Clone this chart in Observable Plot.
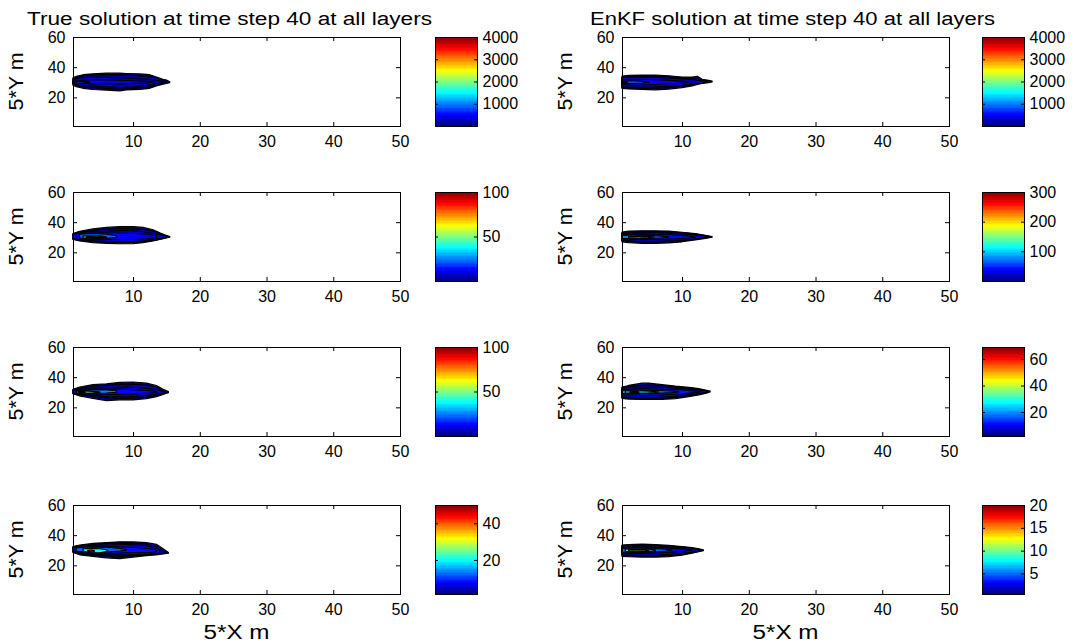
<!DOCTYPE html>
<html><head><meta charset="utf-8">
<script src="https://cdn.jsdelivr.net/npm/d3@7"></script>
<script src="https://cdn.jsdelivr.net/npm/@observablehq/plot@0.6"></script>
<style>
body{margin:0;background:#fff;}
#fig{position:relative;width:1078px;height:643px;overflow:hidden;background:#fff;font-family:"Liberation Sans",Arial,sans-serif;}
#fig > svg{position:absolute;overflow:visible;}
</style></head><body><div id="fig"></div>
<script>
// ---------- texts & ticks ----------
const titles = ["True solution at time step 40 at all layers", "EnKF solution at time step 40 at all layers"];
const xLabel = "5*X m";
const yLabel = "5*Y m";
const xTicks = [10, 20, 30, 40, 50];
const yTicks = [20, 40, 60];
const xDomain = [1, 50];
const yDomain = [1, 60];

// ---------- colorbars ----------
const trueCbMin = [0, 0, 0, 1.4];
const trueCbMax = [4000, 100, 100, 50];
const trueCbTicks = [[1000, 2000, 3000, 4000], [50, 100], [50, 100], [20, 40]];
const enkfCbMin = [0, 0, 2, 0.5];
const enkfCbMax = [4000, 300, 69, 20];
const enkfCbTicks = [[1000, 2000, 3000, 4000], [100, 200, 300], [20, 40, 60], [5, 10, 15, 20]];

// jet colormap
const jetStops = [0, 0.125, 0.375, 0.625, 0.875, 1];
const jetColors = ["#00007f", "#0000ff", "#00ffff", "#ffff00", "#ff0000", "#7f0000"];

// ---------- plume contour bands: [x, yLow, yHigh] ----------
// True, layer 1
const trueL1Levels = [20, 120, 250, 450, 900, 2500];
const trueL1Bands = [
  [[1,28,33],[1.5,27,34],[2.5,26,35],[4,25.2,35.6],[6,24.8,36],[8,24.3,36],[9,25,35.8],[11,25.3,35.5],[12.5,26,35],[13.5,27.5,33.5],[14.5,28.8,32],[15,29.2,31.5],[15.5,29.8,30.3]],
  [[1,28.5,32.5],[2,27.2,33.8],[4,26.5,34.8],[6,26,35],[8,25.5,35],[10,26,34.5],[12,26.8,34],[13.5,28,33],[14.8,29.5,30.8]],
  [[1,29,31.5],[2,28,33],[4,27.5,33.5],[6,27,33.5],[8,26.5,33],[10,27,32.5],[12,28,32],[13.5,29,31.2],[14.5,29.8,30.5]],
  [[2,29.5,31],[4,28.7,31.8],[6,29.2,31.5],[8,28.8,31.3],[10,29.2,31],[12,29.6,30.7],[13,30,30.3]],
  [[1,29.7,30.6],[2,29.5,30.8],[3.5,29.8,30.3]],
  [[1,29.8,30.3],[1.6,30,30.1]]
];
// True, layer 2
const trueL2Levels = [1, 4, 8, 12, 22, 55, 90];
const trueL2Bands = [
  [[1,28.5,32.5],[2,27.5,34],[4,26.5,35.5],[6,26,36.5],[8,25.7,37],[10,25.8,37],[11.5,26.5,36.5],[13,27.5,35],[14,28.5,33],[15,29.5,31.2],[15.5,30,30.5]],
  [[1,28.8,32.2],[2.5,27.8,33.6],[5,27,35],[8,26.5,35.8],[10,26.6,35.6],[12,27.3,35],[13.5,28.3,33.5],[15,29.8,30.8]],
  [[1,29,32],[3,28,33.5],[6,27.3,34],[9,27,34.5],[11,27.5,34],[13,28.5,32.5],[14.5,29.7,31]],
  [[2,29,32.5],[4,28.5,33],[7,28.5,33],[10,28.5,32.5],[12,29,32],[13.5,29.8,31]],
  [[2,29.5,32],[4,29,32.5],[6,29.2,32],[7.5,29.8,31]],
  [[2.5,29.6,30.8],[3.5,29.3,31],[5,29.5,30.9],[6,29.9,30.3]],
  [[3,29.7,30.4],[3.6,29.6,30.5],[4.2,29.9,30.2],[4.8,29.7,30.3],[5.3,29.6,30.4],[5.8,29.9,30.1]]
];
// True, layer 3
const trueL3Levels = [1, 4, 8, 13, 25, 50, 65];
const trueL3Bands = [
  [[1,29,32],[2,27.5,33.5],[4,26,35],[6,24.5,35.5],[8,25,36.5],[10,25,36.8],[12,25.8,36],[13.5,27,34.5],[14.5,28.5,32],[15.3,29.7,30.5]],
  [[1,29.1,31.8],[2.5,28,33],[5,26.8,34.3],[8,26,35.2],[10,26,35.3],[12,26.8,34.8],[13.5,27.8,33.3],[14.8,29.6,30.7]],
  [[1,29.3,31.5],[3,28.2,32.5],[6,27.2,33],[9,27,33.5],[11,27.5,33],[13,28.5,32],[14.5,29.5,30.8]],
  [[1.5,29.5,31.3],[4,28.8,32],[7,28.5,32.3],[10,28.8,31.8],[12.5,29.5,31],[13.5,30,30.5]],
  [[1.5,29.5,31],[4,29.2,31.5],[6,29.5,31.6],[7.5,30,31]],
  [[1.5,29.6,30.8],[2.5,29.4,30.9],[4,29.6,30.6],[5,29.9,30.2]],
  [[1.8,29.8,30.4],[2.3,29.7,30.5],[2.8,29.9,30.2]]
];
// True, layer 4
const trueL4Levels = [2, 3.5, 5, 8, 12, 20, 42];
const trueL4Bands = [
  [[1,28.5,32.5],[2,27,33.5],[4,26,34.5],[6,25,35],[8,24.5,35.6],[10,25.5,35.5],[12,26.5,35],[13.5,27,34],[14.5,27.5,31],[15.3,28,28.5]],
  [[1,28.8,32.2],[2.5,27.6,33.3],[5,26.5,34.2],[8,25.8,34.8],[10,26.3,34.7],[12,27,34],[13.8,27.6,32],[14.8,28,29]],
  [[1,29,32],[3,28,33],[6,27,33.5],[9,27,34],[12,27.5,33],[14,28,30.5]],
  [[1.5,29,31.8],[4,28.3,32.5],[7,28,32.5],[10,28.5,32],[12.5,28.5,31],[13.5,29,30]],
  [[1.5,29.3,31.5],[3,29,32],[6,28.8,32],[8,29.5,31.3],[9,30,30.5]],
  [[2.5,29.5,31],[3.5,28.5,31.3],[5,28.3,31],[5.8,29,30.5],[6.2,29.5,30]],
  [[3.2,29.2,30],[3.7,29,30.1],[4.2,29.3,29.8]]
];
// EnKF, layer 1
const enkfL1Levels = [20, 120, 250, 450, 900, 2000];
const enkfL1Bands = [
  [[1,26,34],[2,25.6,34.5],[4,25.3,34.8],[6,25,34.7],[8,25.5,34.3],[10,26.5,33.5],[11.5,27.5,33.5],[12.3,28.5,34],[13,29.3,32],[14,29.8,31.3],[14.5,30.2,30.8]],
  [[1,26.5,33.5],[3,26.1,34.1],[6,26,34],[8,26.5,33.5],[10,27.5,32.8],[12,28.8,32.2],[13.6,29.9,30.9]],
  [[1,27,33],[3,26.8,33.5],[6,27,33.3],[9,27.5,32.5],[11,28.5,32],[13,29.5,31],[13.8,30.2,30.6]],
  [[1,28.5,31.5],[3,28,32],[6,28.5,31.8],[8,29,31.3],[10,29.5,30.8],[11,30,30.3]],
  [[1,29.3,30.8],[2.5,29.2,31],[4,29.5,30.6],[5,29.9,30.2]],
  [[1,29.7,30.4],[1.8,29.9,30.2]]
];
// EnKF, layer 2
const enkfL2Levels = [3, 12, 25, 40, 75, 115];
const enkfL2Bands = [
  [[1,27,33.5],[2,26.5,34],[4,26,34.3],[6,26,34.3],[8,26.3,34],[10,27,33.3],[12,28.3,32.5],[13.5,29.3,31.3],[14.5,30,30.5]],
  [[1,27.5,33],[3,27,33.6],[6,26.7,33.7],[9,27,33.3],[11,28,32.6],[13,29.2,31.4],[14.2,30,30.5]],
  [[1,28,32.5],[3,27.5,33],[6,27.3,33],[9,27.8,32.5],[11,28.5,31.8],[13,29.5,31],[13.8,30,30.5]],
  [[1,28.8,31.8],[3,28.5,32.2],[6,28.5,32],[9,29,31.5],[11,29.5,30.8],[12,30,30.3]],
  [[1,29.3,31.2],[3,29,31.5],[5,29.2,31.2],[7,29.6,30.7],[8,30,30.3]],
  [[2,29.7,30.6],[3.5,29.5,30.8],[5,29.7,30.5],[5.8,30,30.2]]
];
// EnKF, layer 3
const enkfL3Levels = [4, 5.5, 7, 12, 20, 29, 52];
const enkfL3Bands = [
  [[1,26,33.5],[2,25.5,34.5],[4,25.2,36],[5,25.2,36],[7,25.3,35],[9,25.8,34],[11,27,33.2],[12.5,28.3,32.5],[13.5,29.3,31.5],[14.2,30.2,30.8]],
  [[1,26.5,33],[2.5,26,34],[5,25.8,34.8],[8,26.3,34],[10,27,33.2],[12,28.2,32.4],[13.8,29.9,31]],
  [[1,27,32.5],[3,26.5,33.5],[6,26.5,33.5],[9,27.3,32.8],[11,28.3,32],[13,29.5,31.2],[13.8,30.2,30.6]],
  [[1,28.5,31.8],[4,28,32.5],[7,28.3,32],[10,29,31.5],[12,29.8,30.8],[12.8,30.2,30.4]],
  [[1,29.3,31.3],[3,29,31.5],[6,29.3,31.3],[8.5,29.8,30.8],[9.5,30.2,30.4]],
  [[1.5,29.6,30.9],[3,29.3,31],[5,29.6,30.7],[6.5,30,30.3]],
  [[2.2,29.8,30.5],[2.8,29.7,30.6],[3.5,29.9,30.3]]
];
// EnKF, layer 4
const enkfL4Levels = [0.8, 1.3, 1.8, 3, 5, 9, 13];
const enkfL4Bands = [
  [[1,26,33.5],[2,25.7,33.8],[4,25.5,34],[6,25.5,33.8],[8,25.8,33.2],[10,26.8,32.5],[11.5,28,31.8],[12.5,29,31],[13.2,29.8,30.3]],
  [[1,26.5,33.1],[3,26.2,33.4],[6,26.1,33.3],[8.5,26.6,32.6],[10.5,27.6,32],[12.2,29,30.9],[12.9,29.8,30.3]],
  [[1,27,32.8],[3,26.7,33],[6,26.7,32.8],[9,27.5,32],[11,28.5,31.5],[12.5,29.5,30.6]],
  [[1,28,32],[3,27.8,32.3],[6,28,32],[8.5,28.8,31.3],[10.5,29.5,30.8],[11.5,30,30.3]],
  [[1,28.8,31.3],[3,28.5,31.6],[5.5,28.8,31.3],[7.5,29.5,30.8],[8.5,30,30.3]],
  [[1.5,29.3,30.8],[3,29,31],[5,29.3,30.8],[6,29.8,30.3]],
  [[2,29.6,30.4],[3,29.5,30.5],[4.5,29.6,30.4],[5,29.9,30.1]]
];

const trueBands = [trueL1Bands, trueL2Bands, trueL3Bands, trueL4Bands];
const trueLevels = [trueL1Levels, trueL2Levels, trueL3Levels, trueL4Levels];
const enkfBands = [enkfL1Bands, enkfL2Bands, enkfL3Bands, enkfL4Bands];
const enkfLevels = [enkfL1Levels, enkfL2Levels, enkfL3Levels, enkfL4Levels];

// ---------- layout ----------
const colX = [73, 622];
const rowY = [37, 192, 347, 505];
const axW = 327, axH = 89;
const cbX = [435, 982], cbW = 42;
const FONT = "Liberation Sans, Arial, sans-serif";

const jetScale = d3.scaleLinear().domain(jetStops).range(jetColors).clamp(true);
const jet = t => jetScale(t);

const fig = document.getElementById("fig");
function place(svg, left, top) {
  svg.style.left = left + "px";
  svg.style.top = top + "px";
  fig.appendChild(svg);
}

const cols = [
  {bands: trueBands, levels: trueLevels, cbMin: trueCbMin, cbMax: trueCbMax, cbTicks: trueCbTicks},
  {bands: enkfBands, levels: enkfLevels, cbMin: enkfCbMin, cbMax: enkfCbMax, cbTicks: enkfCbTicks}
];

cols.forEach((col, c) => {
  for (let r = 0; r < 4; r++) {
    const mL = 40, mR = 10, mT = 5, mB = 28;
    const colorOpt = {type: "linear", domain: [col.cbMin[r], col.cbMax[r]], interpolate: jet};
    const bandMarks = col.bands[r].map((b, i) =>
      Plot.areaY(b, {x: d => d[0], y1: d => d[1], y2: d => d[2], fill: () => col.levels[r][i], stroke: "black", strokeWidth: 1.2, strokeLinejoin: "round"})
    );
    const panel = Plot.plot({
      width: mL + axW + mR, height: mT + axH + mB,
      marginLeft: mL, marginRight: mR, marginTop: mT, marginBottom: mB,
      x: {domain: xDomain},
      y: {domain: yDomain},
      color: colorOpt,
      style: {fontSize: "16px", fontFamily: FONT, color: "black", background: "transparent", overflow: "visible"},
      marks: [
        ...bandMarks,
        Plot.tickX(xTicks, {x: d => d, insetTop: axH - 4, stroke: "black"}),
        Plot.tickX(xTicks, {x: d => d, insetBottom: axH - 4, stroke: "black"}),
        Plot.tickY(yTicks, {y: d => d, insetRight: axW - 4, stroke: "black"}),
        Plot.tickY(yTicks, {y: d => d, insetLeft: axW - 4, stroke: "black"}),
        Plot.frame({stroke: "black", strokeWidth: 1}),
        Plot.axisX(xTicks, {tickSize: 0, tickPadding: 9, fontSize: 16, fill: "black"}),
        Plot.axisY(yTicks, {tickSize: 0, tickPadding: 8, fontSize: 16, fill: "black"})
      ]
    });
    place(panel, colX[c] - mL, rowY[r] - mT);

    // colorbar (64-step jet ramp)
    const lo = col.cbMin[r], hi = col.cbMax[r];
    const nSteps = 64;
    const steps = d3.range(nSteps).map(i => ({y1: lo + (hi - lo) * i / nSteps, y2: lo + (hi - lo) * (i + 1) / nSteps}));
    const cmL = 1, cmR = 55, cmT = 5, cmB = 5;
    const cb = Plot.plot({
      width: cmL + cbW + cmR, height: cmT + axH + cmB,
      marginLeft: cmL, marginRight: cmR, marginTop: cmT, marginBottom: cmB,
      x: {domain: [0, 1], axis: null},
      y: {domain: [lo, hi]},
      color: colorOpt,
      style: {fontSize: "16px", fontFamily: FONT, color: "black", background: "transparent", overflow: "visible"},
      marks: [
        Plot.rect(steps, {x1: 0, x2: 1, y1: "y1", y2: "y2", fill: d => (d.y1 + d.y2) / 2, inset: 0, shapeRendering: "crispEdges"}),
        Plot.tickY(col.cbTicks[r], {y: d => d, insetRight: cbW - 3, stroke: "black"}),
        Plot.tickY(col.cbTicks[r], {y: d => d, insetLeft: cbW - 3, stroke: "black"}),
        Plot.frame({stroke: "black"}),
        Plot.axisY(col.cbTicks[r], {anchor: "right", tickSize: 0, tickPadding: 5, fontSize: 16, fill: "black", tickFormat: d => String(d)})
      ]
    });
    place(cb, cbX[c] - cmL, rowY[r] - cmT);
  }
});

// ---------- titles and axis labels ----------
const ov = d3.create("svg").attr("width", 1078).attr("height", 643)
  .style("left", "0px").style("top", "0px")
  .attr("font-family", FONT).attr("fill", "black");
const titleX = [27, 590];
titles.forEach((t, c) => {
  ov.append("text").attr("x", titleX[c]).attr("y", 25).attr("font-size", 18)
    .attr("textLength", 405).attr("lengthAdjust", "spacingAndGlyphs").text(t);
  ov.append("text").attr("x", colX[c] + axW / 2 - 33).attr("y", 639).attr("font-size", 20)
    .attr("textLength", 66).attr("lengthAdjust", "spacingAndGlyphs").text(xLabel);
  rowY.forEach(ry => {
    const cx = colX[c] - 50, cy = ry + axH / 2;
    ov.append("text").attr("transform", `translate(${cx},${cy}) rotate(-90)`)
      .attr("x", -29).attr("font-size", 20)
      .attr("textLength", 58).attr("lengthAdjust", "spacingAndGlyphs").text(yLabel);
  });
});
fig.appendChild(ov.node());
</script>
</body></html>
